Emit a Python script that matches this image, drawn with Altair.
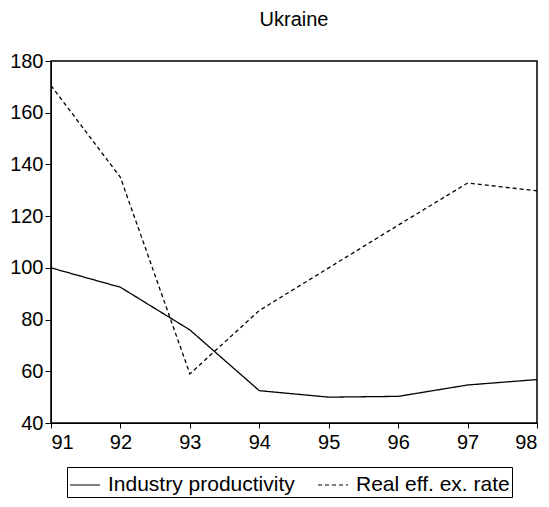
import altair as alt
import pandas as pd

years = [91, 92, 93, 94, 95, 96, 97, 98]
industry = [100.0, 92.5, 76.0, 52.5, 50.0, 50.3, 54.7, 56.8]
reer = [170.5, 135.0, 59.0, 83.5, 100.0, 116.5, 132.8, 129.8]
series_names = ["Industry productivity", "Real eff. ex. rate"]
y_ticks = [40, 60, 80, 100, 120, 140, 160, 180]

rows = []
for yr, a, b in zip(years, industry, reer):
    rows.append({"year": yr, "value": a, "series": series_names[0]})
    rows.append({"year": yr, "value": b, "series": series_names[1]})
df = pd.DataFrame(rows)

FONT = "Liberation Sans"

chart = alt.Chart(df).mark_line(color="black", strokeWidth=1.3).encode(
    x=alt.X("year:Q",
            scale=alt.Scale(domain=[91, 98], nice=False, zero=False),
            axis=alt.Axis(values=years, format="d", title=None, grid=False,
                          tickSize=5, labelPadding=4, labelFontSize=20,
                          labelFont=FONT, labelColor="black",
                          domainColor="black", tickColor="black")),
    y=alt.Y("value:Q",
            scale=alt.Scale(domain=[40, 180], nice=False, zero=False),
            axis=alt.Axis(values=y_ticks, title=None, grid=False,
                          tickSize=6, labelPadding=2, labelFontSize=20,
                          labelFont=FONT, labelColor="black",
                          domainColor="black", tickColor="black")),
    strokeDash=alt.StrokeDash("series:N",
                              scale=alt.Scale(domain=series_names,
                                              range=[[1, 0], [4, 3]]),
                              legend=alt.Legend(title=None, orient="none",
                                                legendX=16, legendY=406,
                                                direction="horizontal",
                                                symbolType="stroke",
                                                symbolSize=900,
                                                symbolStrokeColor="black",
                                                symbolStrokeWidth=1.2,
                                                labelFontSize=21,
                                                labelFont=FONT,
                                                labelColor="black",
                                                labelOffset=7,
                                                columnPadding=20,
                                                strokeColor="black",
                                                padding=2,
                                                labelLimit=400)),
    detail="series:N",
).properties(
    width=486,
    height=362,
    title=alt.TitleParams("Ukraine", fontSize=20, font=FONT,
                          fontWeight="normal", color="black", offset=21),
    autosize=alt.AutoSizeParams(type="none"),
    padding={"left": 43, "top": 53, "right": 4, "bottom": 76},
).configure_view(stroke="black", strokeWidth=1.5)

chart.save("out.html", embed_options={"renderer": "svg", "actions": False})
